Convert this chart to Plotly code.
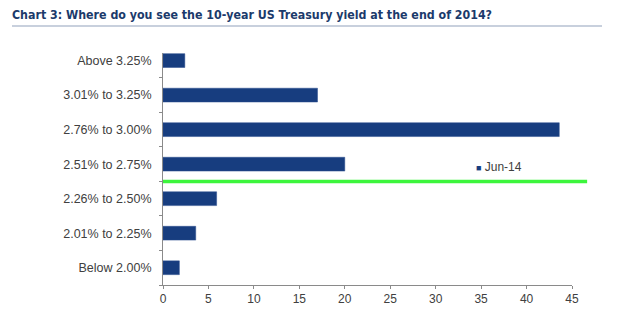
import plotly.graph_objects as go

categories = ["Below 2.00%", "2.01% to 2.25%", "2.26% to 2.50%", "2.51% to 2.75%",
              "2.76% to 3.00%", "3.01% to 3.25%", "Above 3.25%"]
values = [1.8, 3.6, 5.9, 20.0, 43.6, 17.0, 2.4]
series_name = "Jun-14"
x_ticks = [0, 5, 10, 15, 20, 25, 30, 35, 40, 45]
title_text = "Chart 3: Where do you see the 10-year US Treasury yield at the end of 2014?"

bar_color = "#173d7f"
base_family = "Liberation Sans, Arial, sans-serif"
ytick_font = dict(family=base_family, size=12.5, color="#404040")
xtick_font = dict(family=base_family, size=12, color="#404040")

fig = go.Figure()
fig.add_trace(go.Bar(
    y=categories, x=values, orientation="h", name=series_name,
    marker=dict(color=bar_color, line=dict(color="#2c4f8f", width=0.5)),
    width=0.4, showlegend=False,
))

fig.update_layout(
    width=640, height=322,
    margin=dict(l=163, r=68, t=53, b=37),
    paper_bgcolor="white", plot_bgcolor="white",
    title=dict(text="<b>" + title_text + "</b>", x=12/640, xanchor="left",
               y=1 - 15/322, yanchor="middle",
               font=dict(family="DejaVu Sans Condensed, Liberation Sans Narrow, sans-serif",
                         size=12.3, color="#1b3a6b")),
    xaxis=dict(range=[0, 45], tickvals=x_ticks, showgrid=False, zeroline=False,
               showline=True, linecolor="#8a8a8a", linewidth=1,
               ticks="outside", ticklen=3, tickcolor="#8a8a8a",
               tickfont=xtick_font, fixedrange=True),
    yaxis=dict(categoryorder="array", categoryarray=categories,
               range=[-0.5, 6.22], showgrid=False, zeroline=False,
               showline=True, linecolor="#8a8a8a", linewidth=1,
               ticks="outside", ticklen=3, tickcolor="#8a8a8a", tickson="boundaries",
               ticklabelstandoff=8,
               tickfont=ytick_font),
    shapes=[
        dict(type="line", xref="paper", yref="y", x0=0, x1=1.037, y0=2.5, y1=2.5,
             line=dict(color="#3cf53c", width=3.5)),
        dict(type="line", xref="paper", yref="paper", x0=(12-163)/409, x1=(602-163)/409,
             y0=(285-26)/232, y1=(285-26)/232, line=dict(color="#b6c0d2", width=1.5)),
    ],
    annotations=[
        dict(xref="paper", yref="paper", x=(474-163)/409, y=(285-167)/232,
             xanchor="left", yanchor="middle", showarrow=False,
             text="<span style='color:%s;font-size:9px'>■</span> %s" % (bar_color, series_name),
             font=xtick_font),
    ],
)

fig.write_html("out.html")
